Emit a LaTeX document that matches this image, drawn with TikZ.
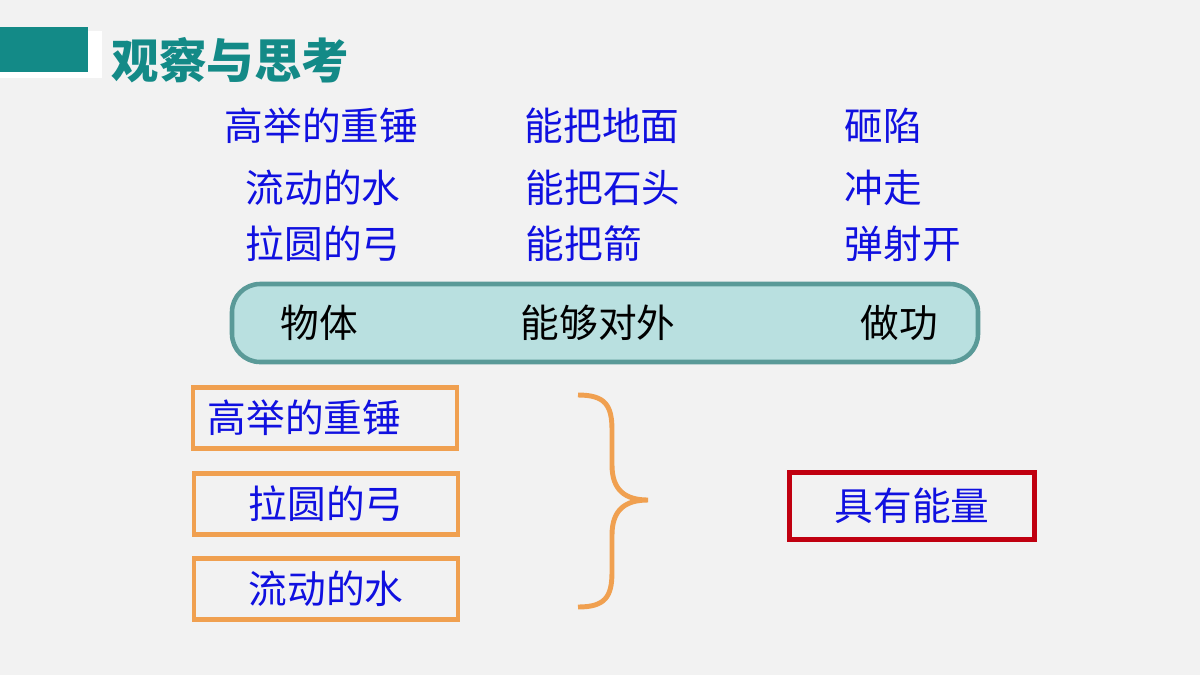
\documentclass[tikz,border=0pt]{standalone}
\usepackage{fontspec}
\newfontfamily\cjk{Noto Sans CJK SC}
\definecolor{teal1}{HTML}{138A87}
\definecolor{blueT}{HTML}{1010E0}
\definecolor{boxfill}{HTML}{B9E0E0}
\definecolor{boxdraw}{HTML}{5A9A98}
\definecolor{orangeB}{HTML}{F0A050}
\definecolor{redB}{HTML}{C00010}
\begin{document}
\begin{tikzpicture}[x=0.01cm,y=-0.01cm,
  txt/.style={font=\cjk\fontsize{11}{13}\selectfont, text=blueT, inner sep=0pt},
  obox/.style={draw=orangeB, line width=1.3pt, minimum width=2.64cm, minimum height=0.61cm},
  rbox/.style={draw=redB, line width=1.3pt, minimum width=2.45cm, minimum height=0.67cm}]
\fill[white!95!black] (0,0) rectangle (1200,675);
\useasboundingbox (0,0) rectangle (1200,675);

% header
\fill[white] (0,31) rectangle (102,78);
\fill[teal1] (0,27) rectangle (88,72);
\node[anchor=west, font=\cjk\bfseries\fontsize{13.5}{16}\selectfont, text=teal1, inner sep=0pt] (title) at (111,60) {观察与思考};

% three rows
\node[txt, anchor=west] (w11) at (224,126) {高举的重锤};
\node[txt, anchor=west] (w12) at (524,126) {能把地面};
\node[txt, anchor=west] (w13) at (844,126) {砸陷};
\node[txt, anchor=west] (w21) at (245,188) {流动的水};
\node[txt, anchor=west] (w22) at (525,188) {能把石头};
\node[txt, anchor=west] (w23) at (844,188) {冲走};
\node[txt, anchor=west] (w31) at (245,244) {拉圆的弓};
\node[txt, anchor=west] (w32) at (525,244) {能把箭};
\node[txt, anchor=west] (w33) at (844,244) {弹射开};

% summary box
\draw[boxdraw, fill=boxfill, line width=1.3pt, rounded corners=8pt] (232,284) rectangle (978,362);
\node[txt, text=black, anchor=west] (s1) at (280,323) {物体};
\node[txt, text=black, anchor=west] (s2) at (520,323) {能够对外};
\node[txt, text=black, anchor=west] (s3) at (860,323) {做功};

% left boxes
\node[obox] (b1) at (325,418) {};
\node[txt, anchor=west] (t1) at (207,418) {高举的重锤};
\node[obox, txt, text=blueT] (b2) at (326,504) {拉圆的弓};
\node[obox, txt, text=blueT] (b3) at (326,589) {流动的水};

% brace
\coordinate (bt) at (578,395);
\coordinate (bm) at (648,500);
\coordinate (bb) at (578,607);
\draw[orangeB, line width=1.4pt] (bt) .. controls (605,395) and (612,405) .. (612,430)
  -- (612,465) .. controls (612,490) and (625,500) .. (bm)
  .. controls (625,500) and (612,510) .. (612,535)
  -- (612,572) .. controls (612,597) and (605,607) .. (bb);

% result
\node[rbox, txt, text=blueT] (res) at (912,506) {具有能量};
\end{tikzpicture}
\end{document}
